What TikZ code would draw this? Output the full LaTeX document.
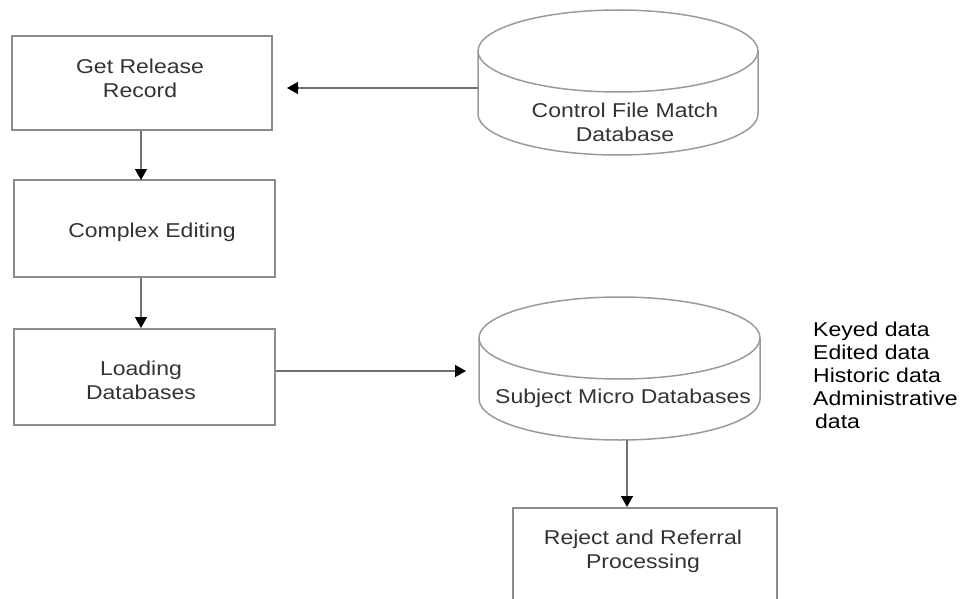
\documentclass[tikz,border=0pt]{standalone}
\usepackage{fontspec}
\setmainfont{Liberation Sans}[FakeStretch=1.15]
\usetikzlibrary{arrows.meta}
\definecolor{boxline}{HTML}{8C8C8C}
\definecolor{dbline}{HTML}{9A9A9A}
\definecolor{flowline}{HTML}{707070}
\definecolor{boxtext}{HTML}{333333}
\begin{document}
\begin{tikzpicture}[x=1pt,y=-1pt,
  stepbox/.style={draw=boxline,line width=2pt,rectangle,inner sep=0pt},
  boxlabel/.style={font=\fontsize{20}{24}\selectfont,text=boxtext,align=center,inner sep=0pt},
  dbarea/.style={rectangle,inner sep=0pt},
  dbshape/.style={draw=dbline,line width=1.5pt},
  flow/.style={draw=flowline,line width=1.5pt,-{Triangle[length=11pt,width=12pt,fill=black,color=black]}},
  sidelabel/.style={font=\fontsize{20}{23}\selectfont,align=left,inner sep=0pt,anchor=north west}]
\useasboundingbox (0,0) rectangle (961,599);
\clip (0,0) rectangle (961,599);

% process boxes
\node[stepbox,minimum width=260pt,minimum height=94pt] (get) at (142,83) {};
\node[stepbox,minimum width=261pt,minimum height=97pt] (edit) at (144.5,228.5) {};
\node[stepbox,minimum width=261pt,minimum height=96pt] (load) at (144.5,377) {};
\node[stepbox,minimum width=264pt,minimum height=110pt] (reject) at (645,563) {};

\node[boxlabel] (getT) at (140,78) {Get Release\\Record};
\node[boxlabel] (editT) at (152,232) {Complex Editing};
\node[boxlabel] (loadT) at (141,380) {Loading\\Databases};
\node[boxlabel] (rejectT) at (643,551) {Reject and Referral\\Processing};

% database cylinders
\node[dbarea,minimum width=280pt,minimum height=145pt] (cfm) at (618,82.5) {};
\draw[dbshape] (478,51) -- (478,114) arc[start angle=180,end angle=0,x radius=140,y radius=41] -- (758,51);
\draw[dbshape] (618,51) ellipse[x radius=140,y radius=41];
\node[boxlabel] (cfmT) at (625,122) {Control File Match\\Database};

\node[dbarea,minimum width=281pt,minimum height=143pt] (smd) at (619.5,368.5) {};
\draw[dbshape] (479,338) -- (479,399) arc[start angle=180,end angle=0,x radius=140.5,y radius=41] -- (760,338);
\draw[dbshape] (619.5,338) ellipse[x radius=140.5,y radius=41];
\node[boxlabel] (smdT) at (623,398) {Subject Micro Databases};

% contents of the subject databases
\node[sidelabel] (kinds) at (813,322) {Keyed data\\Edited data\\Historic data\\Administrative\\\hspace*{2pt}data};

% flow connectors
\coordinate (cfmIn) at (287,88);
\draw[flow] (cfm.west |- cfmIn) -- (cfmIn);
\draw[flow] (get.south -| 141,0) -- (141,180);
\draw[flow] (edit.south -| 141,0) -- (141,328);
\coordinate (smdIn) at (466,371);
\draw[flow] (load.east |- smdIn) -- (smdIn);
\coordinate (smdOut) at (627,440);
\draw[flow] (smdOut) -- (smdOut |- reject.north);
\end{tikzpicture}
\end{document}
